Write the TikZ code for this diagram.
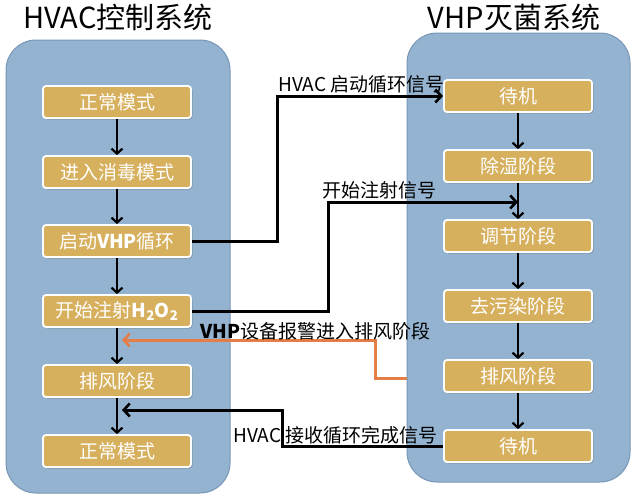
\documentclass[tikz,border=0pt]{standalone}
\usepackage{fontspec}
\setmainfont{Noto Sans CJK SC}
\newfontfamily\cjk{Noto Sans CJK SC}
\usetikzlibrary{arrows.meta,shadows}
\definecolor{panelfill}{RGB}{148,179,208}
\definecolor{paneldraw}{RGB}{120,150,182}
\definecolor{boxfill}{RGB}{215,176,94}
\definecolor{alarmc}{RGB}{229,125,70}
\tikzset{
  panel/.style={draw=paneldraw, line width=1pt, fill=panelfill, rounded corners=30pt, inner sep=0pt},
  stepbox/.style={draw=white, line width=1.8pt, fill=boxfill, rounded corners=3pt,
    minimum width=148pt, minimum height=32pt, inner sep=0pt, text=white,
    font=\fontsize{19}{19}\selectfont,
    drop shadow={shadow xshift=1.5pt, shadow yshift=-1.5pt, opacity=0.35, fill=black!60}},
  flow/.style={line width=2.4pt, -{Straight Barb[length=5pt,width=11pt,line width=2.2pt]}},
  sig/.style={line width=3pt, -{Straight Barb[length=6pt,width=13pt,line width=2.6pt]}},
  alarm/.style={line width=3pt, draw=alarmc, -{Straight Barb[length=6pt,width=13pt,line width=2.6pt]}},
  title/.style={font=\fontsize{29}{29}\selectfont, inner sep=0pt, anchor=base},
  lab/.style={font=\fontsize{19}{19}\selectfont, inner sep=0pt, anchor=base west},
}
\begin{document}
\begin{tikzpicture}[x=1pt,y=-1pt]
\useasboundingbox (0,0) rectangle (636,501);
% titles
\node[title] (t1) at (118,28) {HVAC控制系统};
\node[title] (t2) at (514,28) {VHP灭菌系统};
% panels
\node[panel, minimum width=224pt, minimum height=453pt] (lp) at (118,266.5) {};
\node[panel, minimum width=223pt, minimum height=449pt] (rp) at (518.5,257.5) {};
% left column
\node[stepbox] (l1) at (117,102) {正常模式};
\node[stepbox] (l2) at (117,172) {进入消毒模式};
\node[stepbox] (l3) at (117,241) {启动\textbf{VHP}循环};
\node[stepbox] (l4) at (117,311) {开始注射\textbf{H\textsubscript{2}O\textsubscript{2}}};
\node[stepbox] (l5) at (117,381) {排风阶段};
\node[stepbox] (l6) at (117,451) {正常模式};
% right column
\node[stepbox] (r1) at (518,96) {待机};
\node[stepbox] (r2) at (518,166) {除湿阶段};
\node[stepbox] (r3) at (518,236) {调节阶段};
\node[stepbox] (r4) at (518,306) {去污染阶段};
\node[stepbox] (r5) at (518,376) {排风阶段};
\node[stepbox] (r6) at (518,446) {待机};
% vertical flow
\foreach \a/\b in {l1/l2,l2/l3,l3/l4,l4/l5,l5/l6,r1/r2,r2/r3,r3/r4,r4/r5,r5/r6}
  \draw[flow] (\a.south) -- (\b.north);
% signal coordinates
\coordinate (c2) at (518,202);
\coordinate (o1) at (407,378);
\coordinate (o2) at (122,340);
\coordinate (c4) at (122,410);
% connectors
\draw[sig] (l3.east) -- ++(86,0) |- (r1.west);
\draw[sig] (l4.east) -- ++(137,0) |- (c2);
\draw[alarm] (o1) -- ++(-32,0) |- (o2);
\draw[sig] (r6.west) -- ++(-161,0) |- (c4);
% labels
\node[lab] (s1) at (278,91) {HVAC 启动循环信号};
\node[lab] (s2) at (322,197) {开始注射信号};
\node[lab] (s3) at (200,338) {\textbf{VHP}设备报警进入排风阶段};
\node[lab] (s4) at (233,442) {HVAC 接收循环完成信号};
\end{tikzpicture}
\end{document}
